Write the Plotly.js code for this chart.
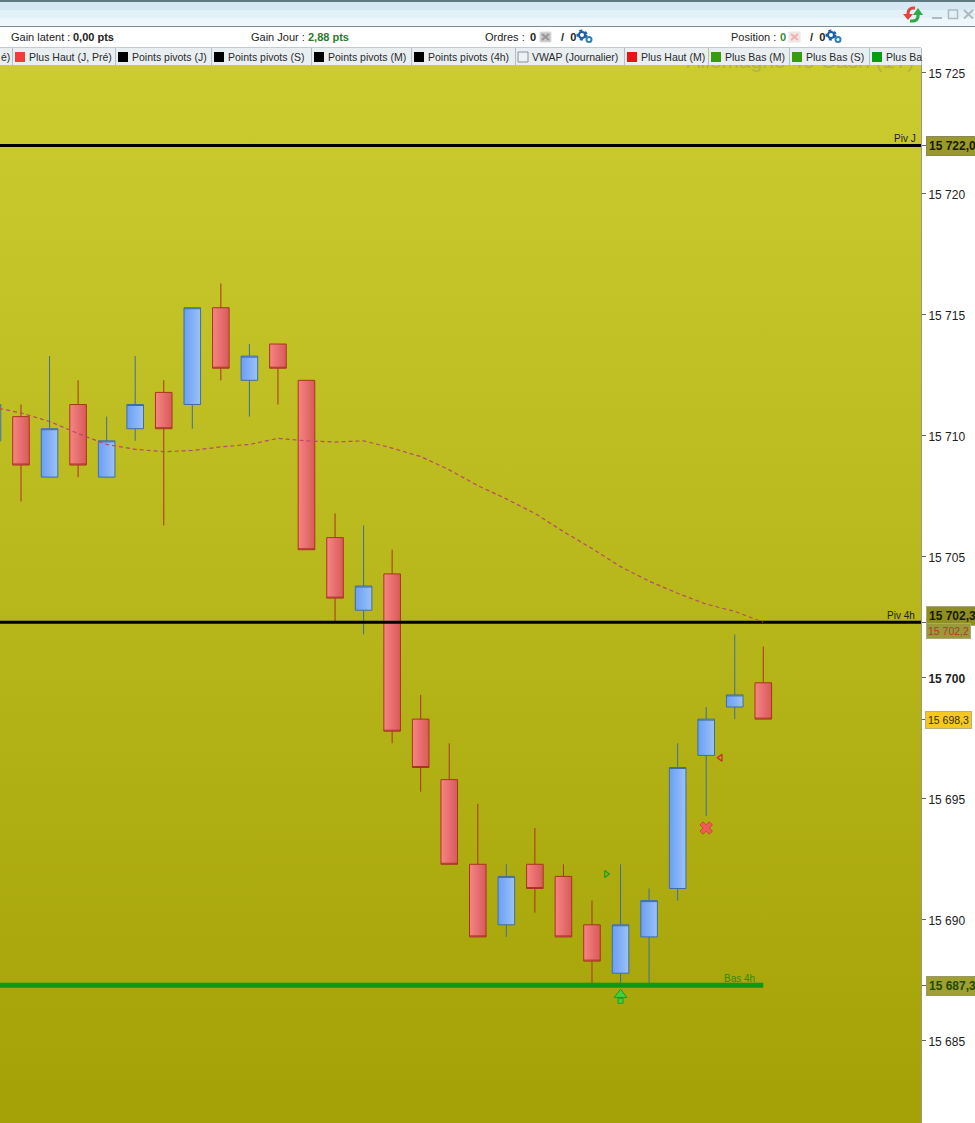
<!DOCTYPE html>
<html><head><meta charset="utf-8">
<script src="https://cdn.plot.ly/plotly-3.0.1.min.js"></script>
<style>html,body{margin:0;padding:0;background:#fff;overflow:hidden}#c{width:975px;height:1123px}</style>
</head><body><div id="c"></div>
<script>
// candle index: x position in bars
const idx   = [-1,0,1,2,3,4,5,6,7,8,9,10,11,12,13,14,15,16,17,18,19,20,21,22,23,24,25,26];
const open  = [15709.8,15710.8,15708.3,15711.3,15708.3,15710.3,15711.8,15711.3,15715.3,15712.3,15713.8,15712.3,15705.8,15702.8,15704.3,15698.3,15695.8,15692.3,15689.8,15692.3,15691.8,15689.8,15687.8,15689.3,15691.3,15696.8,15698.8,15699.8];
const close = [15711.3,15708.8,15710.3,15708.8,15709.8,15711.3,15710.3,15715.3,15712.8,15713.3,15712.8,15705.3,15703.3,15703.8,15697.8,15696.3,15692.3,15689.3,15691.8,15691.3,15689.3,15688.3,15689.8,15690.8,15696.3,15698.3,15699.3,15698.3];
const high  = [15711.8,15711.3,15713.3,15712.3,15710.8,15713.3,15712.3,15715.3,15716.3,15713.8,15713.8,15712.3,15706.8,15706.3,15705.3,15699.3,15697.3,15694.8,15692.3,15693.8,15692.3,15690.8,15692.3,15691.3,15697.3,15698.8,15701.8,15701.3];
const low   = [15709.3,15707.3,15708.3,15708.3,15708.3,15709.8,15706.3,15710.3,15712.3,15710.8,15711.3,15705.3,15702.3,15701.8,15697.3,15695.3,15692.3,15689.3,15689.3,15690.3,15689.3,15687.3,15687.3,15687.3,15690.8,15694.3,15698.3,15698.3];
const maIdx = [-1,0,1,2,3,4,5,6,7,8,9,10,11,12,13,14,15,16,17,18,19,20,21,22,23,24,25,26];
const maVal = [15711.2,15710.95,15710.6,15710.1,15709.65,15709.45,15709.35,15709.4,15709.55,15709.65,15709.9,15709.8,15709.75,15709.8,15709.5,15709.15,15708.6,15707.95,15707.4,15706.8,15706.05,15705.35,15704.6,15704.0,15703.5,15703.05,15702.75,15702.3];
const pivJ = 15722.0, piv4h = 15702.3, bas4h = 15687.3;
const tickVals = [15725,15720,15715,15710,15705,15700,15695,15690,15685,15722,15702.3,15698.3,15687.3];
const tickText = ['15 725','15 720','15 715','15 710','15 705','<b>15 700</b>','15 695','15 690','15 685','','','',''];
const tabs = [
 {x0:0,  x1:12, label:'é)', sw:null, tx:0},
 {x0:12, x1:115,label:'Plus Haut (J, Pré)', sw:'#f03c3c'},
 {x0:115,x1:211,label:'Points pivots (J)', sw:'#000000'},
 {x0:211,x1:311,label:'Points pivots (S)', sw:'#000000'},
 {x0:311,x1:411,label:'Points pivots (M)', sw:'#000000'},
 {x0:411,x1:515,label:'Points pivots (4h)', sw:'#000000'},
 {x0:515,x1:624,label:'VWAP (Journalier)', sw:'#eef1f3'},
 {x0:624,x1:708,label:'Plus Haut (M)', sw:'#ee1111'},
 {x0:708,x1:789,label:'Plus Bas (M)', sw:'#3a9a10'},
 {x0:789,x1:869,label:'Plus Bas (S)', sw:'#3a9a10'},
 {x0:869,x1:921,label:'Plus Ba', sw:'#0a9a14'}
];
const W=921,H=1058,T=65,FONT='"Liberation Sans",Arial,sans-serif';
const px=x=>x/W, py=y=>(T+H-y)/H;
const rect=(x0,y0,x1,y1,fill,line,lw)=>({type:'rect',xref:'paper',yref:'paper',x0:px(x0),x1:px(x1),y0:py(y0),y1:py(y1),fillcolor:fill,line:{color:line||fill,width:line?(lw||1):0},layer:'above'});
const seg=(x0,y0,x1,y1,c,w)=>({type:'line',xref:'paper',yref:'paper',x0:px(x0),x1:px(x1),y0:py(y0),y1:py(y1),line:{color:c,width:w},layer:'above'});
const circ=(cx,cy,r,fill,line,lw,dash)=>({type:'circle',xref:'paper',yref:'paper',x0:px(cx-r),x1:px(cx+r),y0:py(cy-r),y1:py(cy+r),fillcolor:fill,line:{color:line,width:lw,dash:dash||'solid'},layer:'above'});
const txt=(s,x,y,o={})=>({xref:'paper',yref:'paper',x:px(x-1),y:py(y),text:s,showarrow:false,xanchor:o.anchor||'left',yanchor:'middle',borderpad:0,
  font:{family:FONT,size:o.size||11,color:o.color||'#222'},...(o.extra||{})});

const shapes=[
 rect(0,0,975,2,'#5f7882'),
 rect(0,2,975,10,'#d6e9f3'),rect(0,10,975,18,'#e2f0f7'),rect(0,18,975,26,'#eef7fb'),
 rect(0,26,975,27,'#7d8f96'),
 rect(0,47,921,65,'#e9eef1'),
 seg(0,47.5,921,47.5,'#c3cbd0',1),
 seg(921.5,65,921.5,1123,'#9a9a80',1),
 // window buttons
 seg(932,18,942,18,'#aeb9bd',2),
 rect(948.5,10,957.5,18.5,'rgba(0,0,0,0)','#aeb9bd',1.5),
 seg(964,10,973,18.5,'#aeb9bd',2),seg(973,10,964,18.5,'#aeb9bd',2),
 // refresh icon
 {type:'path',xref:'paper',yref:'paper',layer:'above',line:{color:'#e2453f',width:3},
  path:`M ${px(915)} ${py(8)} Q ${px(907)} ${py(7)} ${px(908)} ${py(17)}`},
 {type:'path',xref:'paper',yref:'paper',layer:'above',fillcolor:'#e2453f',line:{color:'#e2453f',width:0},
  path:`M ${px(903)} ${py(14)} L ${px(913)} ${py(14)} L ${px(908)} ${py(20)} Z`},
 {type:'path',xref:'paper',yref:'paper',layer:'above',line:{color:'#2fa845',width:3},
  path:`M ${px(918)} ${py(14)} Q ${px(919)} ${py(22)} ${px(910)} ${py(21)}`},
 {type:'path',xref:'paper',yref:'paper',layer:'above',fillcolor:'#2fa845',line:{color:'#2fa845',width:0},
  path:`M ${px(913)} ${py(15)} L ${px(923)} ${py(15)} L ${px(918)} ${py(8)} Z`},
 // order / position icons
 rect(540,32,551,42,'#c8c8c8','#dddddd',1),
 seg(542,34,549,40,'#989898',2),seg(549,34,542,40,'#989898',2),
 rect(789,32,800,42,'#f4e6e6','#e6e6e6',1),
 seg(791,34,798,40,'#f0b0b0',2),seg(798,34,791,40,'#f0b0b0',2),
 // gears
 circ(582,35,4.5,'rgba(0,0,0,0)','#1f5fa0',2,'dot'),circ(582,35,3,'#ffffff','#1f5fa0',2),circ(589,39.5,2.5,'#ffffff','#2f7fb8',2),
 circ(831,35,4.5,'rgba(0,0,0,0)','#1f5fa0',2,'dot'),circ(831,35,3,'#ffffff','#1f5fa0',2),circ(838,39.5,2.5,'#ffffff','#2f7fb8',2)
];
const anns=[
 txt('Gain latent :',11,37),txt('<b>0,00 pts</b>',73,37),
 txt('Gain Jour :',251,37),txt('<b>2,88 pts</b>',308,37,{color:'#2b7a2b'}),
 txt('Ordres :',485,37),txt('<b>0</b>',530,37),txt('<b>/</b>  <b>0</b>',561,37),
 txt('Position :',731,37),txt('<b>0</b>',780,37,{color:'#3a8a3a'}),txt('<b>/</b>  <b>0</b>',810,37),
 txt('Piv J',894,138,{size:10}),txt('Piv 4h',887,615,{size:10}),
 txt('Bas 4h',724,978,{size:10,color:'#2f8a10'}),
 txt('<b>15 722,0</b>',926.5,145.5,{size:12,color:'#1a1a00',extra:{bgcolor:'#9a9a2a',bordercolor:'#8a8a50',borderwidth:1,borderpad:2}}),
 txt('<b>15 702,3</b>',926.5,615.5,{size:12,color:'#1a1a00',extra:{bgcolor:'#8e8e22',bordercolor:'#a8a870',borderwidth:1,borderpad:2}}),
 txt('15 702,2',926.5,631,{size:10.5,color:'#b03a2a',extra:{bgcolor:'#9a9a3c',bordercolor:'#a8a878',borderwidth:1,borderpad:1}}),
 txt('15 698,3',926,720,{size:10.5,color:'#3a3000',extra:{bgcolor:'#f4c820',bordercolor:'#b8b080',borderwidth:1,borderpad:2}}),
 txt('<b>15 687,3</b>',926.5,986,{size:12,color:'#1f4a00',extra:{bgcolor:'#a0a030',bordercolor:'#9a9a60',borderwidth:1,borderpad:2}})
];
tabs.forEach(t=>{
  shapes.push(seg(t.x1+.5,48,t.x1+.5,65,'#b4bec4',1));
  if(t.sw){
    shapes.push(rect(t.x0+3,52,t.x0+13,62,t.sw,t.sw==='#eef1f3'?'#8a9297':null,1));
    anns.push(txt(t.label,t.x0+17,57.5,{size:10.5,color:'#2a2a2a'}));
  } else anns.push(txt(t.label,t.x0+1,57.5,{size:10.5,color:'#2a2a2a'}));
});

const up=open.map((o,i)=>close[i]>o);
const pick=(a,f)=>a.filter((_,i)=>f(i));
const candle=(isUp,fill,line)=>{
 const f=i=>up[i]===isUp;
 const s={line:{color:line,width:1},fillcolor:fill};
 return {type:'candlestick',x:pick(idx,f),open:pick(open,f),close:pick(close,f),high:pick(high,f),low:pick(low,f),whiskerwidth:0,
   increasing:s,decreasing:s,hoverinfo:'skip',showlegend:false};
};
const hline=(y,x0,x1,c,w)=>({type:'scatter',mode:'lines',x:[x0,x1],y:[y,y],line:{color:c,width:w},hoverinfo:'skip',showlegend:false});
const data=[
 {type:'scatter',mode:'text',x:[27.29],y:[15725.42],text:['Allemagne 40 Cash (1T)'],textposition:'middle center',textfont:{family:FONT,size:21,color:'rgba(170,170,80,0.75)'},hoverinfo:'skip',showlegend:false},
 candle(true,'#7fa8f0','#3f6f9f'),
 candle(false,'#ea6e6e','#a8361e'),
 hline(pivJ,-1,32,'#000',3),hline(piv4h,-1,32,'#000',3),hline(bas4h,-1,26,'#0a9a14',5),
 {type:'scatter',mode:'lines',x:maIdx,y:maVal,line:{color:'#b84a68',width:1.2,dash:'4px,3px'},hoverinfo:'skip',showlegend:false},
 {type:'scatter',mode:'markers',x:[20.5],y:[15691.9],marker:{symbol:'triangle-right-open',size:6,color:'#1f9a1f',line:{width:1.3}},hoverinfo:'skip',showlegend:false},
 {type:'scatter',mode:'markers',x:[24.5],y:[15696.7],marker:{symbol:'triangle-left-open',size:6,color:'#c8302a',line:{width:1.3}},hoverinfo:'skip',showlegend:false},
 {type:'scatter',mode:'markers',x:[24],y:[15693.8],marker:{symbol:'x',size:11,color:'#f05a5a',line:{color:'#c0402a',width:.8}},hoverinfo:'skip',showlegend:false},
 {type:'scatter',mode:'markers',x:[21],y:[15686.66],marker:{symbol:'square',size:5,color:'#3fd03f',line:{color:'#1f9a1f',width:1}},hoverinfo:'skip',showlegend:false},
 {type:'scatter',mode:'markers',x:[21],y:[15686.91],marker:{symbol:'triangle-up',size:11,color:'#3fd03f',line:{color:'#1f9a1f',width:1}},hoverinfo:'skip',showlegend:false}
];
const layout={
 width:975,height:1123,margin:{l:0,r:54,t:65,b:0,pad:0},paper_bgcolor:'#ffffff',plot_bgcolor:'#bcbc20',
 boxgap:0.17,showlegend:false,dragmode:false,
 xaxis:{range:[-0.7355,31.524],visible:false,rangeslider:{visible:false},fixedrange:true},
 yaxis:{side:'right',range:[15681.61,15725.33],tickmode:'array',tickvals:tickVals,ticktext:tickText,showgrid:false,zeroline:false,
   ticks:'outside',ticklen:4,tickcolor:'#666',tickwidth:1,tickfont:{family:FONT,size:12,color:'#222'},showline:false,fixedrange:true},
 shapes,annotations:anns
};
Plotly.newPlot('c',data,layout,{displayModeBar:false,staticPlot:true}).then(gd=>{
 const NS='http://www.w3.org/2000/svg';
 const svg=gd.querySelector('.main-svg');
 let defs=svg.querySelector('defs'); if(!defs){defs=document.createElementNS(NS,'defs');svg.prepend(defs);}
 const grad=(id,vert,c0,c1)=>{const g=document.createElementNS(NS,'linearGradient');g.id=id;
   g.setAttribute('x1','0');g.setAttribute('y1','0');g.setAttribute('x2',vert?'0':'1');g.setAttribute('y2',vert?'1':'0');
   [[0,c0],[1,c1]].forEach(([o,c])=>{const s=document.createElementNS(NS,'stop');s.setAttribute('offset',o);s.setAttribute('stop-color',c);g.appendChild(s);});defs.appendChild(g);};
 grad('gBg',true,'#cccc30','#a3a106');grad('gBlue',false,'#6a9ff6','#9cc2f6');grad('gRed',false,'#f78484','#d85a5a');
 const bg=svg.querySelector('.bglayer .bg')||svg.querySelector('.bg'); if(bg) bg.style.fill='url(#gBg)';
 const traces=gd.querySelectorAll('.boxlayer .trace');
 traces.forEach((t,i)=>t.querySelectorAll('path').forEach(p=>{p.style.fill=i===0?'url(#gBlue)':'url(#gRed)';p.style.fillOpacity=1;}));
 gd.querySelectorAll('.ytick text').forEach(t=>t.setAttribute('y',(+t.getAttribute('y')||0)+1));
});
</script></body></html>
